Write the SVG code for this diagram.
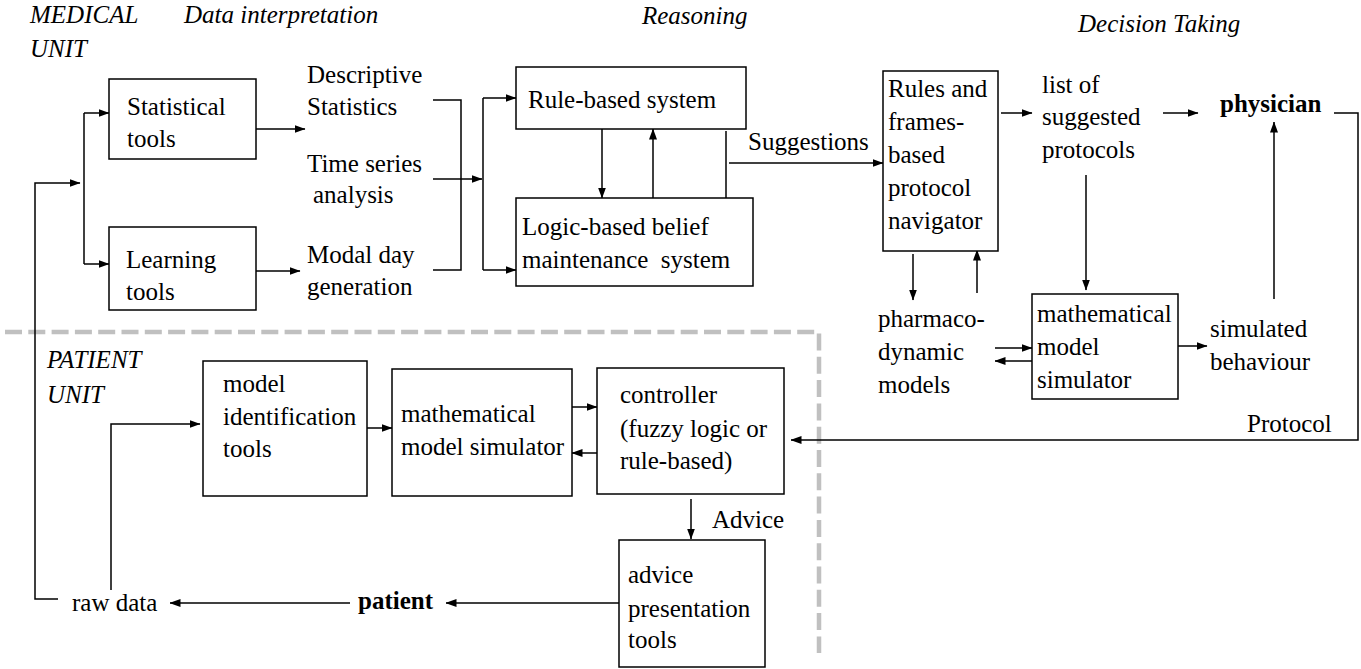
<svg xmlns="http://www.w3.org/2000/svg" width="1361" height="669" viewBox="0 0 1361 669">
<defs>
<marker id="ah" markerWidth="11" markerHeight="8" refX="10.5" refY="4" orient="auto" markerUnits="userSpaceOnUse"><path d="M0,0 L11,4 L0,8 z" fill="#000"/></marker>
</defs>
<rect width="1361" height="669" fill="#fff"/>
<polyline points="5,332 819,332 819,653" fill="none" stroke="#c0c0c0" stroke-width="4.5" stroke-dasharray="17 6.3"/>
<g id="headings">
<text x="30" y="23" font-family="Liberation Serif" font-size="25" font-style="italic">MEDICAL</text>
<text x="30" y="57" font-family="Liberation Serif" font-size="25" font-style="italic">UNIT</text>
<text x="184" y="23" font-family="Liberation Serif" font-size="25" font-style="italic">Data interpretation</text>
<text x="642" y="24" font-family="Liberation Serif" font-size="25" font-style="italic">Reasoning</text>
<text x="1078" y="32" font-family="Liberation Serif" font-size="25" font-style="italic">Decision Taking</text>
<text x="47" y="368" font-family="Liberation Serif" font-size="25" font-style="italic">PATIENT</text>
<text x="47" y="403" font-family="Liberation Serif" font-size="25" font-style="italic">UNIT</text>
</g>
<g id="connectors" fill="none" stroke="#000" stroke-width="1.5">
<polyline points="58,599 35,599 35,183 80,183" marker-end="url(#ah)"/>
<line x1="84" y1="113" x2="84" y2="264"/>
<line x1="84" y1="113" x2="109" y2="113" marker-end="url(#ah)"/>
<line x1="84" y1="264" x2="109" y2="264" marker-end="url(#ah)"/>
<line x1="256" y1="129" x2="305" y2="129" marker-end="url(#ah)"/>
<line x1="256" y1="271" x2="300" y2="271" marker-end="url(#ah)"/>
<polyline points="433,100 461,100 461,270 433,270"/>
<line x1="433" y1="179" x2="461" y2="179"/>
<line x1="461" y1="179" x2="482" y2="179" marker-end="url(#ah)"/>
<line x1="483" y1="98" x2="483" y2="270"/>
<line x1="483" y1="98" x2="516" y2="98" marker-end="url(#ah)"/>
<line x1="483" y1="270" x2="516" y2="270" marker-end="url(#ah)"/>
<line x1="602" y1="129" x2="602" y2="198" marker-end="url(#ah)"/>
<line x1="653" y1="198" x2="653" y2="129" marker-end="url(#ah)"/>
<line x1="726" y1="131" x2="726" y2="199"/>
<line x1="729" y1="163" x2="883" y2="163" marker-end="url(#ah)"/>
<line x1="1001" y1="113" x2="1032" y2="113" marker-end="url(#ah)"/>
<line x1="1163" y1="113" x2="1198" y2="113" marker-end="url(#ah)"/>
<polyline points="1334,113 1358,113 1358,440 791,440" marker-end="url(#ah)"/>
<line x1="1274" y1="299" x2="1274" y2="122" marker-end="url(#ah)"/>
<line x1="1086" y1="175" x2="1086" y2="290" marker-end="url(#ah)"/>
<line x1="1178" y1="346" x2="1207" y2="346" marker-end="url(#ah)"/>
<line x1="995" y1="348" x2="1032" y2="348" marker-end="url(#ah)"/>
<line x1="1032" y1="361" x2="995" y2="361" marker-end="url(#ah)"/>
<line x1="913" y1="254" x2="913" y2="300" marker-end="url(#ah)"/>
<line x1="977" y1="293" x2="977" y2="250" marker-end="url(#ah)"/>
<polyline points="111,590 111,424 200,424" marker-end="url(#ah)"/>
<line x1="367" y1="428" x2="392" y2="428" marker-end="url(#ah)"/>
<line x1="572" y1="407" x2="597" y2="407" marker-end="url(#ah)"/>
<line x1="597" y1="453" x2="572" y2="453" marker-end="url(#ah)"/>
<line x1="691" y1="499" x2="691" y2="539" marker-end="url(#ah)"/>
<line x1="619" y1="603" x2="446" y2="603" marker-end="url(#ah)"/>
<line x1="350" y1="603" x2="170" y2="603" marker-end="url(#ah)"/>
</g>
<g id="statistical-tools"><rect x="109" y="79" width="147" height="80" fill="#fff" stroke="#000" stroke-width="1.5"/><text x="127" y="115" font-family="Liberation Serif" font-size="25">Statistical</text><text x="127" y="147" font-family="Liberation Serif" font-size="25">tools</text></g>
<g id="learning-tools"><rect x="109" y="227" width="147" height="83" fill="#fff" stroke="#000" stroke-width="1.5"/><text x="126" y="268" font-family="Liberation Serif" font-size="25">Learning</text><text x="126" y="300" font-family="Liberation Serif" font-size="25">tools</text></g>
<g id="descriptive"><text x="307" y="83" font-family="Liberation Serif" font-size="25">Descriptive</text><text x="307" y="115" font-family="Liberation Serif" font-size="25">Statistics</text></g>
<g id="timeseries"><text x="307" y="172" font-family="Liberation Serif" font-size="25">Time series</text><text x="313" y="203" font-family="Liberation Serif" font-size="25">analysis</text></g>
<g id="modalday"><text x="307" y="263" font-family="Liberation Serif" font-size="25">Modal day</text><text x="307" y="295" font-family="Liberation Serif" font-size="25">generation</text></g>
<g id="rule-based"><rect x="516" y="67" width="230" height="62" fill="#fff" stroke="#000" stroke-width="1.5"/><text x="528" y="108" font-family="Liberation Serif" font-size="25">Rule-based system</text></g>
<g id="logic-based"><rect x="516" y="198" width="237" height="88" fill="#fff" stroke="#000" stroke-width="1.5"/><text x="522" y="235" font-family="Liberation Serif" font-size="25">Logic-based belief</text><text x="522" y="268" font-family="Liberation Serif" font-size="25">maintenance&#160; system</text></g>
<g id="suggestions"><text x="748" y="150" font-family="Liberation Serif" font-size="25">Suggestions</text></g>
<g id="navigator"><rect x="883" y="71" width="115" height="180" fill="#fff" stroke="#000" stroke-width="1.5"/><text x="888" y="97" font-family="Liberation Serif" font-size="25">Rules and</text><text x="888" y="130" font-family="Liberation Serif" font-size="25">frames-</text><text x="888" y="163" font-family="Liberation Serif" font-size="25">based</text><text x="888" y="196" font-family="Liberation Serif" font-size="25">protocol</text><text x="888" y="229" font-family="Liberation Serif" font-size="25">navigator</text></g>
<g id="list"><text x="1042" y="93" font-family="Liberation Serif" font-size="25">list of</text><text x="1042" y="125" font-family="Liberation Serif" font-size="25">suggested</text><text x="1042" y="158" font-family="Liberation Serif" font-size="25">protocols</text></g>
<g id="physician"><text x="1220" y="112" font-family="Liberation Serif" font-size="25" font-weight="bold">physician</text></g>
<g id="pharmaco"><text x="878" y="327" font-family="Liberation Serif" font-size="25">pharmaco-</text><text x="878" y="360" font-family="Liberation Serif" font-size="25">dynamic</text><text x="878" y="393" font-family="Liberation Serif" font-size="25">models</text></g>
<g id="math-sim-top"><rect x="1032" y="294" width="146" height="105" fill="#fff" stroke="#000" stroke-width="1.5"/><text x="1037" y="322" font-family="Liberation Serif" font-size="25">mathematical</text><text x="1037" y="355" font-family="Liberation Serif" font-size="25">model</text><text x="1037" y="388" font-family="Liberation Serif" font-size="25">simulator</text></g>
<g id="simulated"><text x="1210" y="337" font-family="Liberation Serif" font-size="25">simulated</text><text x="1210" y="370" font-family="Liberation Serif" font-size="25">behaviour</text></g>
<g id="protocol"><text x="1247" y="432" font-family="Liberation Serif" font-size="25">Protocol</text></g>
<g id="model-id"><rect x="203" y="361" width="164" height="135" fill="#fff" stroke="#000" stroke-width="1.5"/><text x="223" y="392" font-family="Liberation Serif" font-size="25">model</text><text x="223" y="425" font-family="Liberation Serif" font-size="25">identification</text><text x="223" y="457" font-family="Liberation Serif" font-size="25">tools</text></g>
<g id="math-sim-bottom"><rect x="392" y="369" width="180" height="127" fill="#fff" stroke="#000" stroke-width="1.5"/><text x="401" y="422" font-family="Liberation Serif" font-size="25">mathematical</text><text x="401" y="455" font-family="Liberation Serif" font-size="25">model simulator</text></g>
<g id="controller"><rect x="597" y="368" width="187" height="126" fill="#fff" stroke="#000" stroke-width="1.5"/><text x="620" y="403" font-family="Liberation Serif" font-size="25">controller</text><text x="620" y="437" font-family="Liberation Serif" font-size="25">(fuzzy logic or</text><text x="620" y="469" font-family="Liberation Serif" font-size="25">rule-based)</text></g>
<g id="advice"><text x="712" y="528" font-family="Liberation Serif" font-size="25">Advice</text></g>
<g id="advice-pres"><rect x="619" y="540" width="146" height="127" fill="#fff" stroke="#000" stroke-width="1.5"/><text x="628" y="583" font-family="Liberation Serif" font-size="25">advice</text><text x="628" y="617" font-family="Liberation Serif" font-size="25">presentation</text><text x="628" y="648" font-family="Liberation Serif" font-size="25">tools</text></g>
<g id="patient"><text x="358" y="609" font-family="Liberation Serif" font-size="25" font-weight="bold">patient</text></g>
<g id="rawdata"><text x="72" y="611" font-family="Liberation Serif" font-size="25">raw data</text></g>
</svg>
